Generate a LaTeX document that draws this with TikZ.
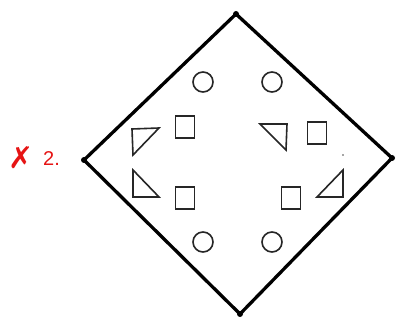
\documentclass[tikz,border=0pt]{standalone}
\usepackage{fontspec}
\setmainfont{Liberation Sans}
\newfontfamily\symfont{DejaVu Sans}
\definecolor{markred}{RGB}{230,20,20}
\begin{document}
\begin{tikzpicture}[x=1pt,y=-1pt,
  edge/.style={line width=3.3pt,line join=round,line cap=round},
  shp/.style={draw=black!85,line width=1.6pt},
  circ/.style={shp,circle,minimum size=20pt,inner sep=0pt},
  sq/.style={shp,minimum width=19pt,minimum height=22pt,inner sep=0pt},
  tri/.style={shp,line join=miter}]
\useasboundingbox (0,0) rectangle (401,320);
\fill[white] (0,0) rectangle (401,320);
% diamond corners
\coordinate (T) at (236,14);
\coordinate (L) at (84,160);
\coordinate (R) at (392,158);
\coordinate (B) at (240,314);
\draw[edge] (T) -- (R) -- (B) -- (L) -- cycle;
\foreach \c in {T,L,R,B} \fill (\c) circle (3pt);
% circles
\node[circ] (c1) at (203,82) {};
\node[circ] (c2) at (272,82) {};
\node[circ] (c3) at (203,242) {};
\node[circ] (c4) at (272,242) {};
% squares
\node[sq] (s1) at (185,127) {};
\node[sq] (s2) at (185,198) {};
\node[sq] (s3) at (317,133) {};
\node[sq] (s4) at (291,198) {};
% triangles
\draw[tri] (132,129) -- (159,128) -- (133,155) -- cycle;
\draw[tri] (133,170) -- (133,197) -- (159,197) -- cycle;
\draw[tri] (260,124) -- (287,124) -- (286,150) -- cycle;
\draw[tri] (317,197) -- (343,170) -- (343,197) -- cycle;
\fill[black!70] (343,155) circle (0.8pt);
% label
\node[text=markred,font=\symfont\fontsize{30}{30}\selectfont,inner sep=0pt] (x) at (21,158) {✗};
\node[text=markred,font=\fontsize{20}{20}\selectfont,inner sep=0pt,anchor=west] (n) at (43,159) {2.};
\end{tikzpicture}
\end{document}
